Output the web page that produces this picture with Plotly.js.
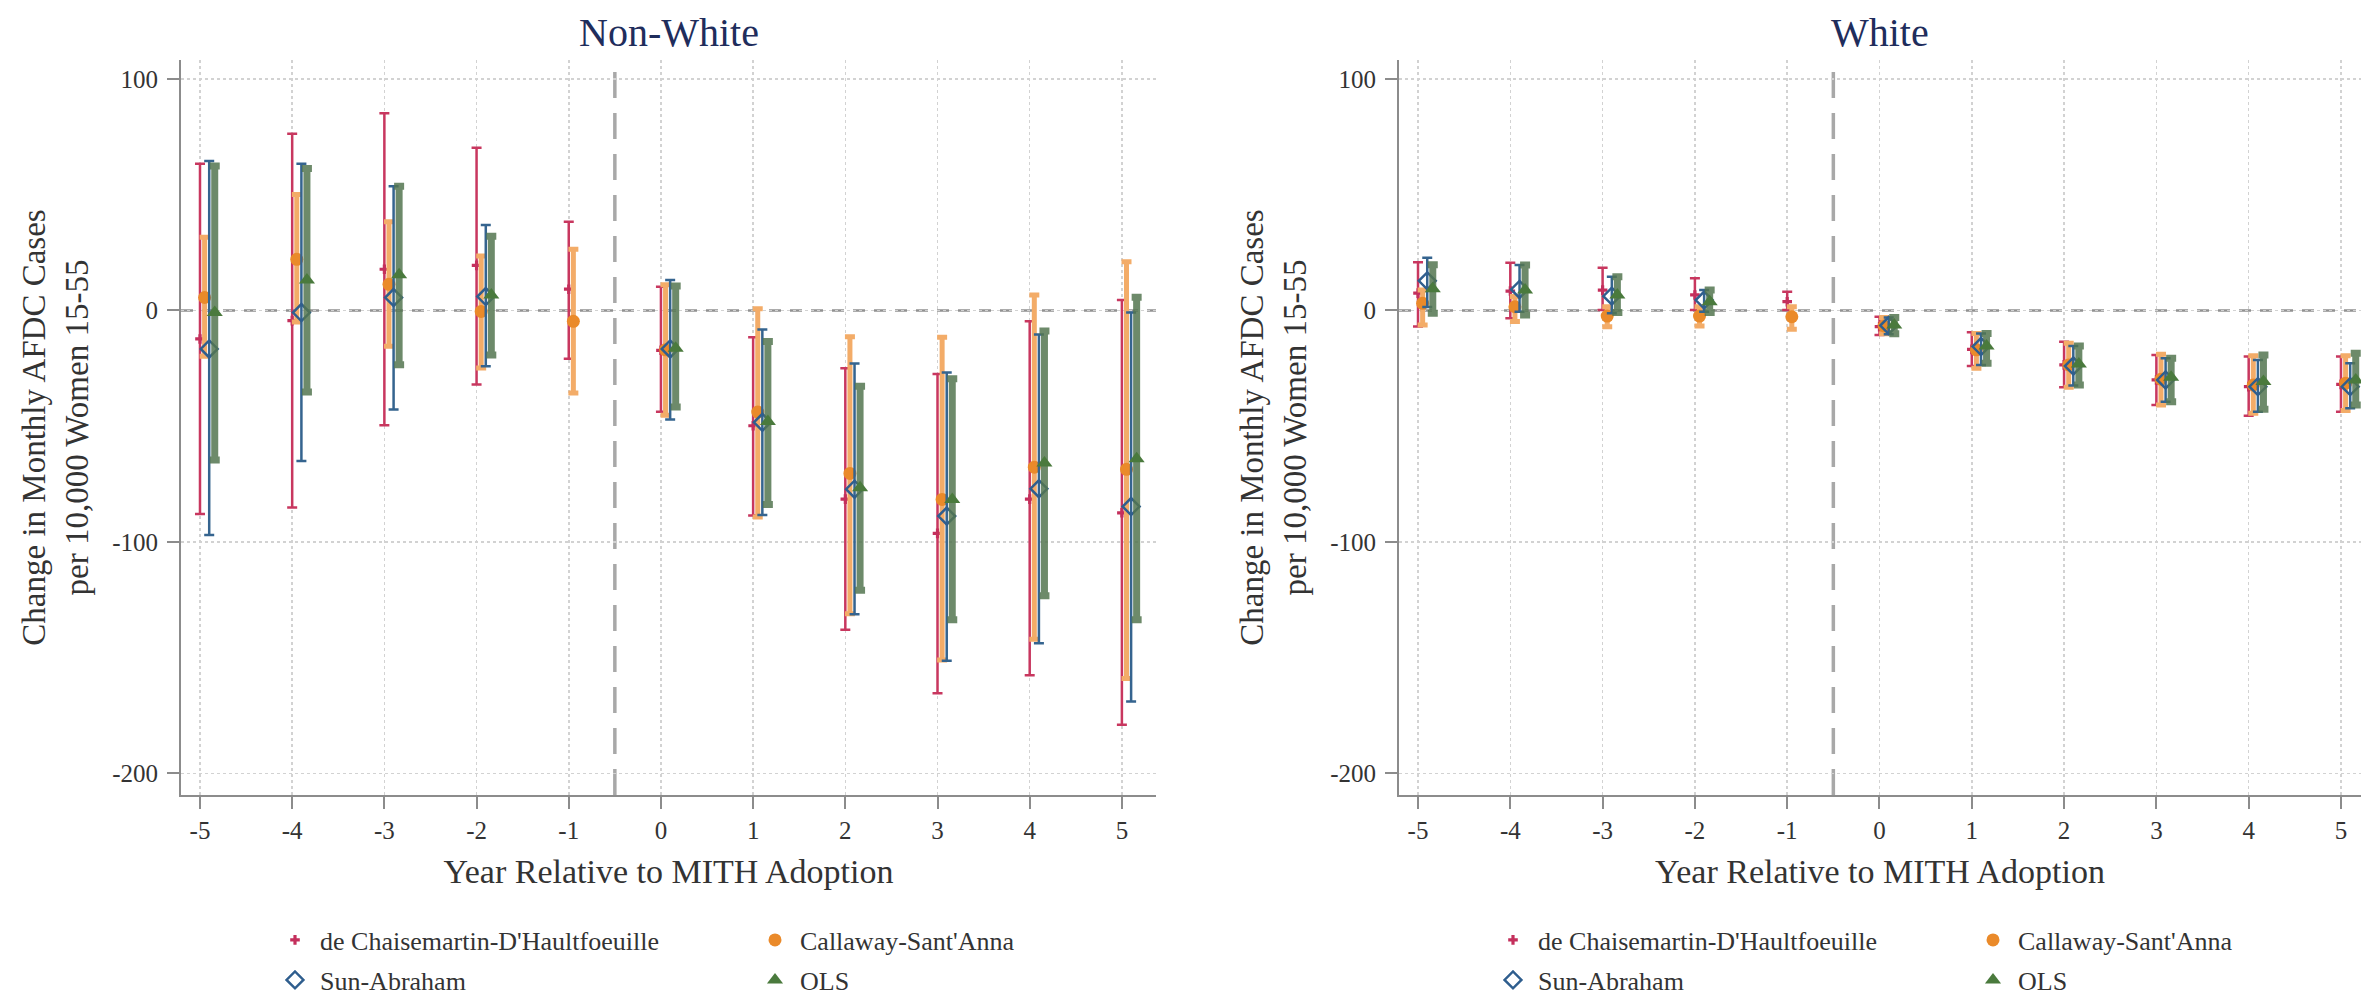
<!DOCTYPE html>
<html>
<head>
<meta charset="utf-8">
<script src="https://cdn.plot.ly/plotly-3.0.1.min.js"></script>
<style>
html,body{margin:0;padding:0;background:#ffffff;overflow:hidden;}
#chart{width:2361px;height:1002px;}
</style>
</head>
<body>
<div id="chart"></div>
<script>
// ---------------- DATA ----------------
const years = [-5, -4, -3, -2, -1, 0, 1, 2, 3, 4, 5];
const xTickLabels = ['-5', '-4', '-3', '-2', '-1', '0', '1', '2', '3', '4', '5'];
const yTickValues = [-200, -100, 0, 100];
const yTickLabels = ['-200', '-100', '0', '100'];
const seriesNames = ['de Chaisemartin-D\'Haultfoeuille', 'Callaway-Sant\'Anna', 'Sun-Abraham', 'OLS'];
const panelTitles = ['Non-White', 'White'];
const xTitleText = 'Year Relative to MITH Adoption';
const yTitleText = 'Change in Monthly AFDC Cases<br>per 10,000 Women 15-55';

// Non-White panel
const nwDcdhPoint = [-12.3, -4.4, 17.8, 19.5, 9.2, -17.2, -49.8, -81.5, -96.3, -81.5, -87.4];
const nwDcdhLow   = [-87.9, -85.1, -49.6, -32.0, -20.8, -43.8, -88.6, -137.9, -165.3, -157.6, -179.0];
const nwDcdhHigh  = [63.4, 76.3, 85.2, 70.3, 38.3, 10.2, -11.6, -25.0, -27.4, -4.6, 4.5];

const nwCsPoint = [5.6, 22.1, 11.3, -0.4, -4.7, -17.0, -43.9, -70.4, -81.6, -67.7, -68.6];
const nwCsLow   = [-19.8, -5.0, -15.5, -24.8, -35.6, -45.3, -89.2, -131.0, -151.0, -142.0, -159.0];
const nwCsHigh  = [31.6, 50.1, 38.3, 23.5, 26.4, 11.1, 0.7, -11.3, -11.6, 6.7, 21.0];

const nwSaPoint = [-16.6, -0.9, 5.6, 6.0, null, -16.6, -48.3, -77.2, -88.8, -77.0, -84.7];
const nwSaLow   = [-97.0, -65.0, -42.8, -24.1, null, -47.1, -88.3, -131.2, -151.3, -143.8, -168.9];
const nwSaHigh  = [64.6, 63.4, 53.7, 36.9, null, 13.2, -8.2, -22.9, -26.8, -10.4, -0.9];

const nwOlsPoint = [-0.9, 13.2, 15.4, 6.7, null, -16.3, -48.0, -76.6, -81.6, -65.9, -64.1];
const nwOlsLow   = [-64.6, -35.2, -23.4, -19.2, null, -41.7, -83.8, -120.9, -133.6, -123.2, -133.6];
const nwOlsHigh  = [62.4, 61.3, 53.7, 32.1, null, 10.6, -13.4, -32.7, -29.5, -8.9, 5.7];

// White panel
const wDcdhPoint = [7.5, 8.4, 8.8, 6.7, 3.8, -7.0, -16.8, -23.5, -30.0, -32.9, -31.9];
const wDcdhLow   = [-6.9, -3.4, 0.2, 0.2, 0.2, -10.6, -24.0, -33.2, -40.8, -45.5, -43.7];
const wDcdhHigh  = [20.8, 20.6, 18.5, 13.9, 8.1, -2.7, -9.4, -13.5, -19.2, -19.9, -19.9];

const wCsPoint = [3.1, 1.6, -2.4, -2.4, -2.7, -6.7, -17.0, -23.5, -29.7, -32.2, -31.4];
const wCsLow   = [-6.3, -4.8, -7.0, -6.7, -8.1, -10.1, -25.0, -33.2, -40.8, -44.4, -43.2];
const wCsHigh  = [8.8, 6.0, 1.6, 1.6, 1.6, -3.0, -9.9, -14.2, -18.9, -19.6, -19.6];

const wSaPoint = [12.8, 9.1, 6.2, 4.5, null, -6.5, -15.6, -24.0, -30.0, -32.9, -32.9];
const wSaLow   = [1.5, -0.5, -1.2, -0.5, null, -10.3, -23.5, -32.4, -39.4, -43.7, -42.2];
const wSaHigh  = [22.8, 19.6, 14.6, 8.8, null, -3.0, -9.9, -15.3, -20.6, -21.4, -22.8];

const wOlsPoint = [9.4, 8.8, 6.7, 3.8, null, -6.3, -15.3, -23.1, -28.8, -30.7, -30.0];
const wOlsLow   = [-1.2, -2.0, -0.9, -0.9, null, -10.1, -22.8, -32.2, -39.4, -42.7, -40.8];
const wOlsHigh  = [19.8, 19.6, 14.6, 8.8, null, -3.0, -9.9, -15.3, -20.6, -19.2, -18.5];

const eventLine = -0.5;

// ---------------- STYLE ----------------
const FONT = 'Liberation Serif, Times New Roman, serif';
const TEXT = '#333333';
const AXIS = '#8c8c8c';
const seriesOffset = [0, 0.05, 0.1, 0.16];
const seriesStyle = [
  {marker: '#c42f5c', bar: '#c8375f', thick: 2.5, cap: 5, symbol: 'cross', size: 8, lw: 0},
  {marker: '#ea8a2a', bar: '#f3ac68', thick: 5, cap: 5, symbol: 'circle', size: 13, lw: 0},
  {marker: '#2f5e8e', bar: '#35648f', thick: 2.5, cap: 5, symbol: 'diamond-open', size: 13, lw: 2.5},
  {marker: '#4a7a3d', bar: 'rgba(84,118,80,0.85)', thick: 7, cap: 5, symbol: 'triangle-up', size: 14, lw: 0}
];

const panels = [
  {xa: 'x', ya: 'y', legends: ['legend', 'legend2'],
   series: [[nwDcdhPoint, nwDcdhLow, nwDcdhHigh], [nwCsPoint, nwCsLow, nwCsHigh],
            [nwSaPoint, nwSaLow, nwSaHigh], [nwOlsPoint, nwOlsLow, nwOlsHigh]]},
  {xa: 'x2', ya: 'y2', legends: ['legend3', 'legend4'],
   series: [[wDcdhPoint, wDcdhLow, wDcdhHigh], [wCsPoint, wCsLow, wCsHigh],
            [wSaPoint, wSaLow, wSaHigh], [wOlsPoint, wOlsLow, wOlsHigh]]}
];
const legendRowOf = [0, 0, 1, 1];

const traces = [];
panels.forEach(function (p) {
  p.series.forEach(function (s, k) {
    const pt = s[0], lo = s[1], hi = s[2];
    const st = seriesStyle[k];
    traces.push({
      type: 'scatter', mode: 'markers',
      name: seriesNames[k],
      legend: p.legends[legendRowOf[k]],
      xaxis: p.xa, yaxis: p.ya,
      x: years.map(function (v) { return v + seriesOffset[k]; }),
      y: pt,
      error_y: {
        type: 'data', symmetric: false,
        array: pt.map(function (v, i) { return v === null ? null : hi[i] - v; }),
        arrayminus: pt.map(function (v, i) { return v === null ? null : v - lo[i]; }),
        color: st.bar, thickness: st.thick, width: st.cap
      },
      marker: {symbol: st.symbol, size: st.size, color: st.marker,
               line: {width: st.lw, color: st.marker}},
      hoverinfo: 'skip'
    });
  });
});

const W = 2361, H = 1002;
function xAxis(domain, range, anchor) {
  return {
    domain: domain, range: range, anchor: anchor, automargin: false, fixedrange: true,
    tickmode: 'array', tickvals: years, ticktext: xTickLabels,
    showline: true, linecolor: AXIS, linewidth: 2,
    ticks: 'outside', ticklen: 12, tickwidth: 2, tickcolor: AXIS,
    showgrid: true, gridcolor: '#d2d2d2', griddash: 'dot', gridwidth: 1.5,
    zeroline: false,
    tickfont: {family: FONT, size: 25, color: TEXT},
    title: {text: xTitleText, font: {family: FONT, size: 34, color: TEXT}, standoff: 16}
  };
}
function yAxis(domain, anchor) {
  return {
    domain: domain, range: [-209.3, 108.2], anchor: anchor, automargin: false, fixedrange: true,
    tickmode: 'array', tickvals: yTickValues, ticktext: yTickLabels,
    showline: true, linecolor: AXIS, linewidth: 2,
    ticks: 'outside', ticklen: 12, tickwidth: 2, tickcolor: AXIS,
    ticklabelstandoff: 4,
    showgrid: true, gridcolor: '#d2d2d2', griddash: 'dot', gridwidth: 1.5,
    zeroline: false,
    tickfont: {family: FONT, size: 25, color: TEXT},
    title: {text: yTitleText, font: {family: FONT, size: 33, color: TEXT}, standoff: 14}
  };
}
const yDom = [1 - 795 / H, 1 - 60 / H];

function legendAt(xpx, ypx) {
  return {
    orientation: 'h', x: xpx / W, y: 1 - ypx / H, xanchor: 'left', yanchor: 'middle',
    entrywidth: 425, entrywidthmode: 'pixels', itemwidth: 40, bgcolor: 'rgba(0,0,0,0)',
    font: {family: FONT, size: 26, color: TEXT}, traceorder: 'normal'
  };
}

const shapes = [];
[['x', 'y'], ['x2', 'y2']].forEach(function (ax) {
  shapes.push({type: 'line', layer: 'below', xref: ax[0] + ' domain', yref: ax[1],
    x0: 0, x1: 1, y0: 0, y1: 0, line: {color: '#919191', width: 2.5, dash: '12px,9px'}});
  shapes.push({type: 'line', layer: 'below', xref: ax[0], yref: ax[1] + ' domain',
    x0: eventLine, x1: eventLine, y0: 0, y1: 1, line: {color: '#a8a8a8', width: 3.5, dash: '26px,15px'}});
});

const annotations = panelTitles.map(function (t, i) {
  return {text: t, xref: (i === 0 ? 'x' : 'x2') + ' domain', yref: 'paper',
    x: 0.5, y: 1 - 33 / H, xanchor: 'center', yanchor: 'middle', showarrow: false,
    font: {family: FONT, size: 40, color: '#1f2d5c'}};
});

const layout = {
  width: W, height: H,
  margin: {l: 0, r: 0, t: 0, b: 0, autoexpand: false},
  paper_bgcolor: '#ffffff', plot_bgcolor: '#ffffff',
  font: {family: FONT, color: TEXT},
  xaxis: xAxis([181 / W, 1156 / W], [-5.206, 5.37], 'y'),
  yaxis: yAxis(yDom, 'x'),
  xaxis2: xAxis([1399 / W, 1], [-5.206, 5.217], 'y2'),
  yaxis2: yAxis(yDom, 'x2'),
  legend: legendAt(270, 940),
  legend2: legendAt(270, 980),
  legend3: legendAt(1488, 940),
  legend4: legendAt(1488, 980),
  shapes: shapes,
  annotations: annotations,
  showlegend: true
};

Plotly.newPlot('chart', traces, layout, {displayModeBar: false, staticPlot: true});
</script>
</body>
</html>
